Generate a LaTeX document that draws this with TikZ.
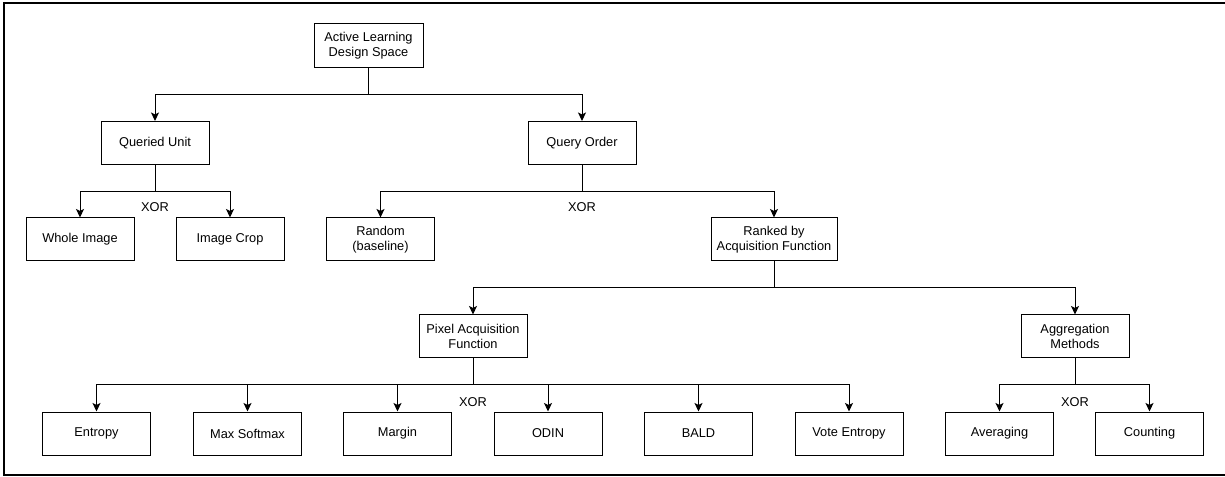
\documentclass[tikz,border=0pt]{standalone}
\usepackage{fontspec}
\setmainfont{Liberation Sans}
\usetikzlibrary{arrows.meta}
\tikzset{
  box/.style={draw, line width=0.75pt, minimum width=81pt, minimum height=32.25pt,
    inner sep=0pt, align=center, font=\fontsize{9.6}{11.3}\selectfont},
  wide/.style={minimum width=94.5pt},
  conn/.style={line width=0.75pt, -{Stealth[length=6.4pt,width=6pt,inset=1.5pt]}},
  xorlabel/.style={inner sep=0pt, font=\fontsize{9.6}{11.3}\selectfont},
}
\begin{document}
\begin{tikzpicture}[x=0.75pt,y=-0.75pt]
\useasboundingbox (0,0) rectangle (1225,477);
\draw[line width=0.9pt] (1226,3) -- (4,3) -- (4,475) -- (1226,475);

% junction levels
\coordinate (j1) at (0,95);
\coordinate (j2) at (0,192);
\coordinate (j3) at (0,288);
\coordinate (j4) at (0,385);

% nodes
\node[box, minimum width=81.75pt, minimum height=33pt] (top) at (368.5,46) {Active Learning\\Design Space};
\node[box] (qu) at (155,143) {Queried Unit};
\node[box] (qo) at (582,143) {Query Order};
\node[box] (whole) at (80,239.5) {Whole Image};
\node[box] (crop) at (230,239.5) {Image Crop};
\node[box] (random) at (380.5,239.5) {Random\\(baseline)};
\node[box, wide] (ranked) at (774,239.5) {Ranked by\\Acquisition Function};
\node[box] (pixel) at (473,336.5) {Pixel Acquisition\\Function};
\node[box] (agg) at (1075,336.5) {Aggregation\\Methods};
\node[box] (entropy) at (96.5,433.5) {Entropy};
\node[box] (maxsm) at (247.5,433.5) {Max Softmax};
\node[box] (margin) at (397.5,433.5) {Margin};
\node[box] (odin) at (548,433.5) {ODIN};
\node[box] (bald) at (698.5,433.5) {BALD};
\node[box] (vote) at (849,433.5) {Vote Entropy};
\node[box] (avg) at (999.5,433.5) {Averaging};
\node[box] (count) at (1149.5,433.5) {Counting};

% XOR labels
\node[xorlabel] (x1) at (155,207) {XOR};
\node[xorlabel] (x2) at (582,207) {XOR};
\node[xorlabel] (x3) at (473,402) {XOR};
\node[xorlabel] (x4) at (1075,402) {XOR};

% connectors
\foreach \p/\c/\j in {top/qu/j1, top/qo/j1,
  qu/whole/j2, qu/crop/j2, qo/random/j2, qo/ranked/j2,
  ranked/pixel/j3, ranked/agg/j3,
  pixel/entropy/j4, pixel/maxsm/j4, pixel/margin/j4, pixel/odin/j4, pixel/bald/j4, pixel/vote/j4,
  agg/avg/j4, agg/count/j4}
  \draw[conn] (\p.south) -- (\p.south |- \j) -| (\c.north);
\end{tikzpicture}
\end{document}
